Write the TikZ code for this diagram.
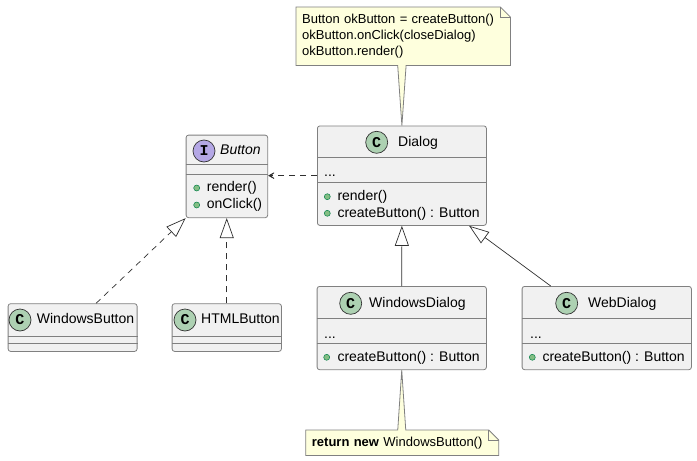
\documentclass[tikz,border=0pt]{standalone}
\usepackage{fontspec}
\setmainfont{Liberation Sans}
\setmonofont{Liberation Mono}
\usepackage{xcolor}
\usetikzlibrary{arrows.meta, positioning, calc, backgrounds}

\definecolor{classbg}{HTML}{F1F1F1}
\definecolor{edgegray}{HTML}{808080}
\definecolor{lineblk}{HTML}{303030}
\definecolor{classspot}{HTML}{ADD1B2}
\definecolor{ifacespot}{HTML}{B4A7E5}
\definecolor{dotfill}{HTML}{84BE84}
\definecolor{dotedge}{HTML}{038048}
\definecolor{notebg}{HTML}{FEFFDD}

\begin{document}
\begin{tikzpicture}[x=1pt, y=-1pt,
    classbox/.style={draw=edgegray, fill=classbg, rounded corners=2.5pt, line width=0.8pt, anchor=north west, inner sep=0pt},
    sepline/.style={draw=edgegray, line width=0.8pt},
    spot/.style={circle, draw=black!80, line width=0.7pt, minimum size=22pt, inner sep=0pt, font=\ttfamily\bfseries\fontsize{15}{15}\selectfont},
    cname/.style={anchor=west, inner sep=0pt, font=\fontsize{14}{16}\selectfont, text height=10pt, text depth=2.5pt},
    member/.style={cname},
    pubdot/.style={circle, draw=dotedge, fill=dotfill, minimum size=6pt, inner sep=0pt, line width=0.5pt},
    notebox/.style={anchor=north west, inner xsep=6pt, inner ysep=0pt, align=left, font=\fontsize{13}{16}\selectfont},
    noteline/.style={draw=edgegray, line width=0.8pt},
    realize/.style={draw=lineblk, line width=0.7pt, dash pattern=on 6pt off 5pt, -{Triangle[open, length=20pt, width=14pt]}},
    extend/.style={draw=lineblk, line width=0.7pt, -{Triangle[open, length=20pt, width=14pt]}},
    uses/.style={draw=lineblk, line width=0.7pt, dash pattern=on 6pt off 5pt, -{Stealth[length=9pt, width=10pt, inset=6pt]}}
]
\useasboundingbox (0,0) rectangle (697,461);

% interface Button
\node[classbox, minimum width=81.6pt, minimum height=82.6pt] (button) at (185.7,134.7) {};
\draw[sepline] ([yshift=-30pt]button.north west) -- ([yshift=-30pt]button.north east);
\draw[sepline] ([yshift=-40pt]button.north west) -- ([yshift=-40pt]button.north east);
\node[spot, fill=ifacespot] (buttonI) at (204,151) {I};
\node[cname, font=\itshape\fontsize{14}{16}\selectfont] (buttonName) at (220,151) {Button};
\node[pubdot] (buttonD1) at (196.7,188) {};
\node[member] (buttonM1) at (206.7,188) {render()};
\node[pubdot] (buttonD2) at (196.7,205) {};
\node[member] (buttonM2) at (206.7,205) {onClick()};

% class Dialog
\node[classbox, minimum width=169pt, minimum height=99.5pt] (dialog) at (317,125.5) {};
\draw[sepline] ([yshift=-31.8pt]dialog.north west) -- ([yshift=-31.8pt]dialog.north east);
\draw[sepline] ([yshift=-57.2pt]dialog.north west) -- ([yshift=-57.2pt]dialog.north east);
\node[spot, fill=classspot] (dialogC) at (376.7,142.3) {C};
\node[cname] (dialogName) at (398,142.3) {Dialog};
\node[member] (dialogF) at (324,173) {...};
\node[pubdot] (dialogD1) at (327.3,196.7) {};
\node[member] (dialogM1) at (337.3,196.7) {render()};
\node[pubdot] (dialogD2) at (327.3,213.3) {};
\node[member] (dialogM2) at (337.3,213.3) {createButton() : Button};

% class WindowsDialog
\node[classbox, minimum width=169.3pt, minimum height=83.3pt] (winDialog) at (316.7,286) {};
\draw[sepline] ([yshift=-32.3pt]winDialog.north west) -- ([yshift=-32.3pt]winDialog.north east);
\draw[sepline] ([yshift=-57.3pt]winDialog.north west) -- ([yshift=-57.3pt]winDialog.north east);
\node[spot, fill=classspot] (winDialogC) at (350.7,303.3) {C};
\node[cname] (winDialogName) at (369,303.3) {WindowsDialog};
\node[member] (winDialogF) at (324,335) {...};
\node[pubdot] (winDialogD1) at (326.7,357.3) {};
\node[member] (winDialogM1) at (337.3,357.3) {createButton() : Button};

% class WebDialog
\node[classbox, minimum width=169.3pt, minimum height=83.3pt] (webDialog) at (521.7,286) {};
\draw[sepline] ([yshift=-32.3pt]webDialog.north west) -- ([yshift=-32.3pt]webDialog.north east);
\draw[sepline] ([yshift=-57.3pt]webDialog.north west) -- ([yshift=-57.3pt]webDialog.north east);
\node[spot, fill=classspot] (webDialogC) at (566.7,303.3) {C};
\node[cname] (webDialogName) at (588,303.3) {WebDialog};
\node[member] (webDialogF) at (530,335) {...};
\node[pubdot] (webDialogD1) at (532.3,357.3) {};
\node[member] (webDialogM1) at (542.3,357.3) {createButton() : Button};

% class WindowsButton
\node[classbox, minimum width=129pt, minimum height=47.7pt] (winButton) at (7.7,303.3) {};
\draw[sepline] ([yshift=-33.4pt]winButton.north west) -- ([yshift=-33.4pt]winButton.north east);
\draw[sepline] ([yshift=-40pt]winButton.north west) -- ([yshift=-40pt]winButton.north east);
\node[spot, fill=classspot] (winButtonC) at (20,320) {C};
\node[cname] (winButtonName) at (36.7,320) {WindowsButton};

% class HTMLButton
\node[classbox, minimum width=109.3pt, minimum height=47.7pt] (htmlButton) at (171.7,303.3) {};
\draw[sepline] ([yshift=-33.4pt]htmlButton.north west) -- ([yshift=-33.4pt]htmlButton.north east);
\draw[sepline] ([yshift=-40pt]htmlButton.north west) -- ([yshift=-40pt]htmlButton.north east);
\node[spot, fill=classspot] (htmlButtonC) at (185,320) {C};
\node[cname] (htmlButtonName) at (201,320) {HTMLButton};

% notes
\node[notebox, minimum width=214pt, minimum height=58pt, text width=202pt] (noteDialog) at (296,7)
    {Button okButton = createButton()\\okButton.onClick(closeDialog)\\okButton.render()};
\node[notebox, minimum width=192.6pt, minimum height=25pt, text width=180.6pt] (noteWin) at (305.7,430)
    {\textbf{return new} WindowsButton()};
\begin{scope}[on background layer]
  \filldraw[noteline, fill=notebg] (noteDialog.north west) -- ([xshift=-10pt]noteDialog.north east)
    -- ([yshift=-10pt]noteDialog.north east) -- (noteDialog.south east)
    -- ($(noteDialog.south -| dialog.north)+(4.2,0)$) -- (dialog.north)
    -- ($(noteDialog.south -| dialog.north)+(-4.2,0)$) -- (noteDialog.south west) -- cycle;
  \filldraw[noteline, fill=notebg] (noteWin.north west)
    -- ($(noteWin.north -| winDialog.south)+(-4,0)$) -- (winDialog.south)
    -- ($(noteWin.north -| winDialog.south)+(4,0)$) -- ([xshift=-10pt]noteWin.north east)
    -- ([yshift=-10pt]noteWin.north east) -- (noteWin.south east) -- (noteWin.south west) -- cycle;
\end{scope}
\draw[noteline] ([xshift=-10pt]noteDialog.north east) -- ([xshift=-10pt,yshift=-10pt]noteDialog.north east) -- ([yshift=-10pt]noteDialog.north east);
\draw[noteline] ([xshift=-10pt]noteWin.north east) -- ([xshift=-10pt,yshift=-10pt]noteWin.north east) -- ([yshift=-10pt]noteWin.north east);

% relations
\draw[uses] (dialog.west) -- (dialog.west -| button.east);
\draw[realize] ([xshift=23.5pt]winButton.north) -- (button.south west);
\draw[realize] (htmlButton.north) -- (htmlButton.north |- button.south);
\draw[extend] (winDialog.north) -- (dialog.south);
\draw[extend] ([xshift=29pt]webDialog.north west) -- ([xshift=-17.7pt]dialog.south east);
\end{tikzpicture}
\end{document}
